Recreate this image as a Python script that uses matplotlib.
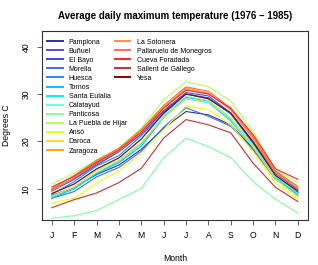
import matplotlib
matplotlib.use("Agg")
import matplotlib.pyplot as plt

plt.rcParams['font.family'] = ['Liberation Sans', 'DejaVu Sans']

months = ["J", "F", "M", "A", "M", "J", "J", "A", "S", "O", "N", "D"]

stations = ["Pamplona", "Buñuel", "El Bayo", "Morella", "Huesca", "Tornos",
            "Santa Eulalia", "Calatayud", "Panticosa", "La Puebla de Hijar",
            "Ansó", "Daroca", "Zaragoza", "La Sotonera",
            "Pallaruelo de Monegros", "Cueva Foradada", "Sallent de Gállego", "Yesa"]

pamplona = [8.6, 10.3, 13.0, 15.0, 18.3, 22.8, 26.3, 25.6, 23.5, 18.5, 12.5, 9.2]
bunuel = [9.8, 12.2, 15.3, 18.0, 21.7, 26.5, 30.3, 29.6, 26.0, 20.0, 13.5, 10.0]
el_bayo = [9.5, 12.0, 15.0, 17.8, 21.5, 26.3, 30.0, 29.2, 25.8, 19.8, 13.2, 9.8]
morella = [8.0, 9.4, 12.5, 14.5, 17.9, 23.0, 27.1, 25.3, 23.2, 18.2, 12.0, 9.0]
huesca = [8.8, 11.5, 14.8, 17.0, 21.2, 25.8, 30.0, 29.0, 25.8, 19.5, 12.8, 9.3]
tornos = [8.0, 10.0, 13.2, 15.5, 19.0, 25.0, 29.3, 28.5, 24.6, 19.0, 12.2, 8.7]
santa_eulalia = [8.3, 10.2, 13.3, 15.8, 19.5, 25.2, 29.0, 28.2, 24.3, 18.7, 12.3, 8.5]
calatayud = [9.0, 11.0, 14.0, 16.5, 20.5, 25.5, 29.5, 28.6, 25.0, 19.2, 12.6, 9.0]
panticosa = [3.8, 4.3, 5.4, 7.7, 10.1, 16.5, 20.7, 18.9, 16.6, 11.5, 7.8, 4.9]
la_puebla = [11.0, 13.3, 16.1, 18.6, 22.8, 28.8, 32.6, 31.6, 28.5, 22.1, 14.0, 11.3]
anso = [7.0, 8.0, 11.2, 13.8, 17.5, 22.5, 27.5, 26.7, 23.5, 17.8, 11.2, 7.8]
daroca = [8.5, 10.4, 13.8, 16.0, 19.8, 25.0, 29.0, 28.3, 24.8, 18.8, 12.0, 8.3]
zaragoza = [10.0, 12.8, 15.8, 18.5, 22.3, 27.3, 31.0, 30.0, 26.8, 20.8, 13.8, 10.3]
la_sotonera = [9.6, 12.3, 15.5, 18.0, 21.8, 27.0, 31.3, 30.2, 26.6, 20.5, 13.4, 10.0]
pallaruelo = [10.0, 12.8, 16.0, 18.5, 22.5, 27.6, 31.5, 30.6, 27.0, 21.0, 13.7, 10.5]
cueva_foradada = [10.4, 12.6, 15.6, 18.2, 22.0, 27.0, 30.8, 30.0, 27.0, 21.4, 14.2, 12.0]
sallent = [6.0, 7.7, 9.1, 11.3, 14.3, 20.7, 24.6, 23.5, 21.8, 15.4, 10.3, 7.3]
yesa = [9.0, 11.0, 14.2, 16.5, 20.5, 26.0, 30.0, 29.0, 26.0, 19.8, 12.8, 9.5]

series = [pamplona, bunuel, el_bayo, morella, huesca, tornos, santa_eulalia,
          calatayud, panticosa, la_puebla, anso, daroca, zaragoza, la_sotonera,
          pallaruelo, cueva_foradada, sallent, yesa]

colors = ["#2E2EA0", "#5050E0", "#3A46FF", "#3C6EF0", "#1E8CFF", "#00BFFF",
          "#00F0F0", "#60FFD8", "#80FF9A", "#B4FF50", "#F0FF00", "#FFD830",
          "#FFA500", "#FF8C3C", "#FF6A4A", "#FF2424", "#CC2E2E", "#8B0000"]

fig = plt.figure(figsize=(3.18, 2.65), dpi=100)
ax = fig.add_axes([42 / 318, 45 / 265, (307.7 - 42) / 318, (220 - 31) / 265])

x = range(1, 13)
lines = []
for s, c in zip(series, colors):
    ln, = ax.plot(x, s, color=c, linewidth=0.8)
    lines.append(ln)

ax.set_xlim(0.56, 12.44)
ax.set_ylim(3.4, 43.3)
ax.set_xticks(list(x))
ax.set_xticklabels(months)
ax.set_yticks([10, 20, 30, 40])
ax.set_yticklabels(["10", "20", "30", "40"], rotation=90, va="center")
ax.tick_params(labelsize=6.2, length=3.6, width=0.7, color="#666666", pad=4.5)

for sp in ax.spines.values():
    sp.set_color("#333333")
    sp.set_linewidth(0.8)

ax.set_title("Average daily maximum temperature (1976 \u2013 1985)",
             fontsize=7, fontweight="bold", pad=8.5)
ax.set_xlabel("Month", fontsize=6.2, labelpad=10)
ax.set_ylabel("Degrees C", fontsize=6.2, labelpad=8)

leg_kw = dict(loc="upper left", frameon=False, fontsize=5, handlelength=2.2,
              handletextpad=0.9, labelspacing=0.3, borderaxespad=0, borderpad=0)
leg1 = ax.legend(lines[:13], stations[:13], bbox_to_anchor=(0.02, 0.96), **leg_kw)
ax.add_artist(leg1)
leg2 = ax.legend(lines[13:], stations[13:], bbox_to_anchor=(0.275, 0.96), **leg_kw)
for lg in (leg1, leg2):
    for h in lg.legend_handles:
        h.set_linewidth(1.4)

fig.savefig("out.png", dpi=100)
